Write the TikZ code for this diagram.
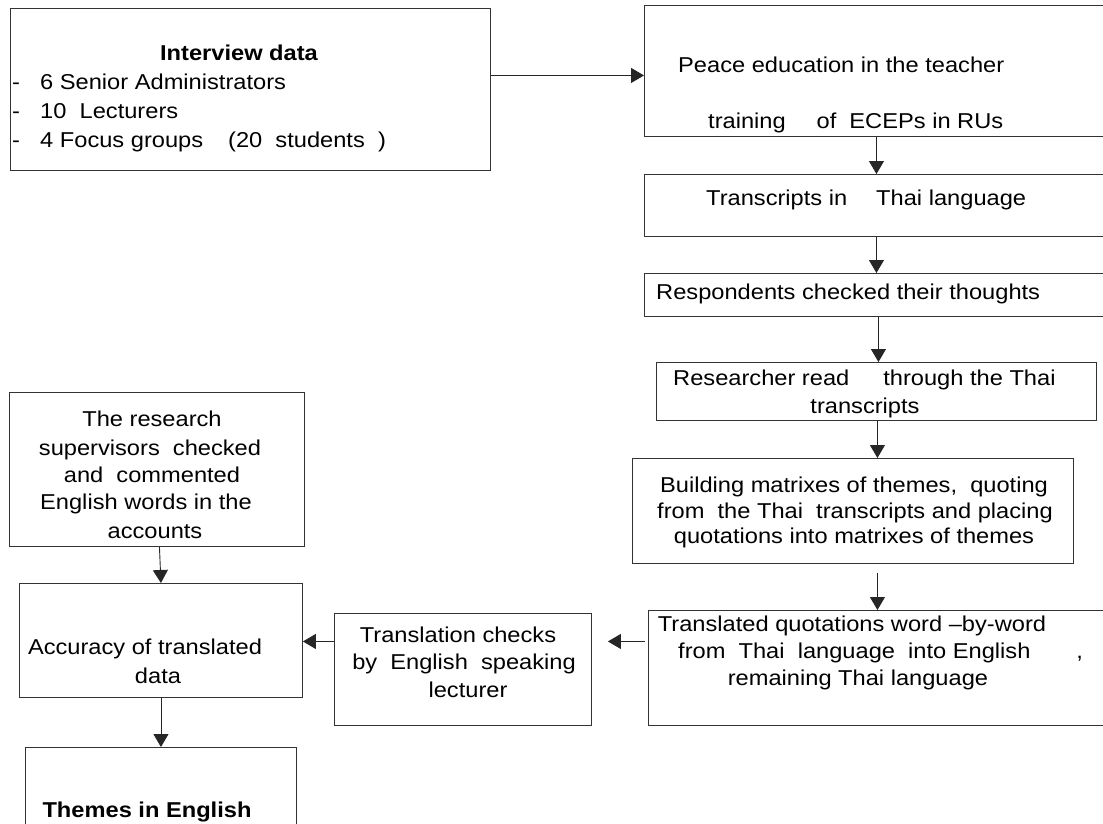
\documentclass[tikz,border=0pt]{standalone}
\usepackage{fontspec}
\setmainfont{Liberation Sans}[FakeStretch=1.1]
\usetikzlibrary{arrows.meta,calc}

\begin{document}
\begin{tikzpicture}[x=1pt,y=-1pt,
  font=\fontsize{21.5}{28}\selectfont,
  box/.style={draw=black!80, line width=0.9pt, rectangle, inner sep=0pt, anchor=north west},
  arr/.style={draw=black!85, line width=0.9pt, -{Triangle[length=13pt,width=15pt]}},
  tc/.style={inner sep=0pt, anchor=base},
  tl/.style={inner sep=0pt, anchor=base west}]

\useasboundingbox (0,0) rectangle (1103,823);
\fill[white] (0,0) rectangle (1103,823);
\clip (0,0) rectangle (1103,823);

% process boxes
\node[box, minimum width=480pt, minimum height=162pt] (A) at (10,8) {};
\node[box, minimum width=464pt, minimum height=131pt] (B) at (644,5) {};
\node[box, minimum width=464pt, minimum height=62pt]  (C) at (644,174) {};
\node[box, minimum width=464pt, minimum height=43pt]  (D) at (644,273) {};
\node[box, minimum width=440pt, minimum height=58pt]  (E) at (656,362) {};
\node[box, minimum width=441pt, minimum height=105pt] (F) at (632,458) {};
\node[box, minimum width=460pt, minimum height=115pt] (G) at (648,610) {};
\node[box, minimum width=257pt, minimum height=112pt] (H) at (334,613) {};
\node[box, minimum width=295pt, minimum height=154pt] (I) at (9,392) {};
\node[box, minimum width=283pt, minimum height=114pt] (J) at (19,583) {};
\node[box, minimum width=271pt, minimum height=90pt]  (K) at (25,747) {};

% box texts
\node[tc] (a1) at (239,60) {\bfseries Interview data};
\node[tl] (a2) at (12,89)  {\makebox[28pt][l]{-}6 Senior Administrators};
\node[tl] (a3) at (12,118) {\makebox[28pt][l]{-}10\ \ Lecturers};
\node[tl] (a4) at (12,147) {\makebox[28pt][l]{-}4 Focus groups\hspace{25pt}(20\ \ students\ \ )};

\node[tl] (b1) at (678,72)  {Peace education in the teacher};
\node[tl] (b2) at (708,128) {training\hspace{31pt}of\hspace{13pt}ECEPs in RUs};

\node[tl] (c1) at (706,205) {Transcripts in\hspace{29pt}Thai language};

\node[tl] (d1) at (656,299) {Respondents checked their thoughts};

\node[tl] (e1) at (673,385) {Researcher read\hspace{34pt}through the Thai};
\node[tc] (e2) at (865,413) {transcripts};

\node[tc] (f1) at (854,492) {Building matrixes of themes,\ \ quoting};
\node[tc] (f2) at (855,518) {from\ \ the Thai\ \ transcripts and placing};
\node[tc] (f3) at (854,543) {quotations into matrixes of themes};

\node[tc] (g1) at (852,631) {Translated quotations word –by-word};
\node[tl] (g2) at (678,658) {from\ \ Thai\ \ language\ \ into English\hspace{46pt},};
\node[tc] (g3) at (858,685) {remaining Thai language};

\node[tc] (h1) at (458,642) {Translation checks};
\node[tc] (h2) at (464,669) {by\ \ English\ \ speaking};
\node[tc] (h3) at (468,697) {lecturer};

\node[tc] (i1) at (152,426) {The research};
\node[tc] (i2) at (150,455) {supervisors\ \ checked};
\node[tc] (i3) at (152,482) {and\ \ commented};
\node[tc] (i4) at (146,509) {English words in the};
\node[tc] (i5) at (155,538) {accounts};

\node[tc] (j1) at (145,654) {Accuracy of translated};
\node[tc] (j2) at (158,683) {data};

\node[tc] (k1) at (147,817) {\bfseries Themes in English};

% connectors
\draw[arr] ($(A.east |- B.west)+(0,4.5)$) -- ($(B.west)+(0,4.5)$);
\draw[arr] (B.south) -- (C.north);
\draw[arr] (C.south) -- (D.north);
\draw[arr] ($(D.south)+(2,0)$) -- ($(E.north)+(2,0)$);
\draw[arr] ($(E.south)+(1,0)$) -- ($(E.south |- F.north)+(1,0)$);
\draw[arr] ($(E.south |- F.south)+(1,9)$) -- ($(E.south |- G.north)+(1,0)$);
\draw[arr] ($(G.west)+(-3,-26.5)$) -- ($(G.west -| H.east)+(16,-26.5)$);
\draw[arr] ($(H.west)+(0,-28)$) -- ($(H.west -| J.east)+(0,-28)$);
\draw[arr] ($(I.south)+(2.5,0)$) -- (J.north);
\draw[arr] (J.south) -- (K.north);
\end{tikzpicture}
\end{document}
